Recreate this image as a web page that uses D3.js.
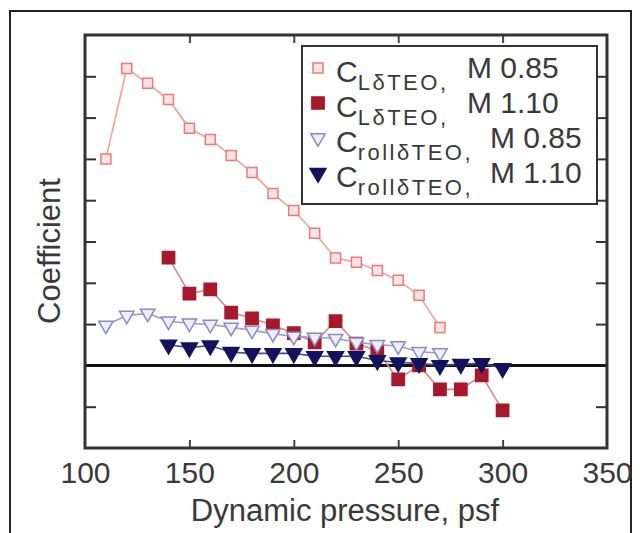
<!DOCTYPE html>
<html>
<head>
<meta charset="utf-8">
<script src="https://cdn.jsdelivr.net/npm/d3@7"></script>
<style>
  body { margin: 0; background: #fff; }
  text { font-family: "Liberation Sans", Arial, sans-serif; fill: #3a3a3a; }
</style>
</head>
<body>
<div id="chart"></div>
<script>
// dynamic pressure (psf) for each series
var qM085 = [110, 120, 130, 140, 150, 160, 170, 180, 190, 200, 210, 220, 230, 240, 250, 260, 270];
var qM110 = [140, 150, 160, 170, 180, 190, 200, 210, 220, 230, 240, 250, 260, 270, 280, 290, 300];

// coefficients
var clM085   = [5.0, 7.19, 6.83, 6.44, 5.74, 5.47, 5.08, 4.67, 4.16, 3.75, 3.2, 2.6, 2.5, 2.3, 2.06, 1.7, 0.92];
var clM110   = [2.61, 1.74, 1.84, 1.28, 1.14, 0.97, 0.78, 0.56, 1.07, 0.53, 0.35, -0.34, 0.0, -0.58, -0.58, -0.24, -1.09];
var rollM085 = [0.97, 1.21, 1.26, 1.07, 1.02, 0.99, 0.92, 0.85, 0.77, 0.70, 0.68, 0.65, 0.56, 0.50, 0.47, 0.33, 0.30];
var rollM110 = [0.50, 0.43, 0.48, 0.32, 0.29, 0.29, 0.29, 0.22, 0.22, 0.22, 0.12, 0.07, 0.05, 0.0, 0.03, 0.05, -0.07];

var xTicks = [100, 150, 200, 250, 300, 350];
var yTicks = [-2, -1, 0, 1, 2, 3, 4, 5, 6, 7, 8];

var legendSub  = ["L\u03B4TEO", "L\u03B4TEO", "roll\u03B4TEO", "roll\u03B4TEO"];
var legendMach = ["M 0.85", "M 1.10", "M 0.85", "M 1.10"];

var series = [
  {q: qM085, v: clM085,   shape: "square",   size: 100, fill: "#fde4e4", stroke: "#ee7a7a", line: "#f2a0a0"},
  {q: qM110, v: clM110,   shape: "square",   size: 150, fill: "#a8182a", stroke: "#a8182a", line: "#d88890"},
  {q: qM085, v: rollM085, shape: "triangle", size: 90,  fill: "#eeeefa", stroke: "#8a8ac4", line: "#9a9ad0"},
  {q: qM110, v: rollM110, shape: "triangle", size: 110, fill: "#12125e", stroke: "#12125e", line: "#4a4a90"}
];

var totalWidth = 640, totalHeight = 533;
var margin = {top: 35, right: 33, bottom: 85, left: 85};
var width = totalWidth - margin.left - margin.right;
var height = totalHeight - margin.top - margin.bottom;

var svg = d3.select("#chart").append("svg")
  .attr("width", totalWidth)
  .attr("height", totalHeight);

// outer frame of the figure
svg.append("rect")
  .attr("x", 10).attr("y", 11)
  .attr("width", 621).attr("height", 540)
  .attr("fill", "none")
  .attr("stroke", "#222")
  .attr("stroke-width", 2);

var canvas = svg.append("g")
  .attr("transform", "translate(" + margin.left + "," + margin.top + ")");

var xScale = d3.scaleLinear().domain([100, 350]).range([0, width]);
var yScale = d3.scaleLinear().domain([-2, 8]).range([height, 0]);

// ticks, inward on all four sides, no y labels
var innerX = xTicks.slice(1, -1);
var innerY = yTicks.slice(1, -1);

canvas.append("g")
  .attr("transform", "translate(0," + height + ")")
  .call(d3.axisBottom(xScale).tickValues(xTicks).tickSize(-8).tickPadding(14).tickFormat(d3.format("d")))
  .call(function(g) {
    g.select(".domain").remove();
    g.selectAll("line").attr("stroke", "#444").attr("stroke-width", 2)
      .filter(function(d) { return innerX.indexOf(d) < 0; }).remove();
    g.selectAll("text").attr("font-size", 30).attr("fill", "#3a3a3a")
      .attr("font-family", "Liberation Sans, Arial, sans-serif");
  });

canvas.append("g")
  .call(d3.axisTop(xScale).tickValues(innerX).tickSize(-8).tickFormat(""))
  .call(function(g) {
    g.select(".domain").remove();
    g.selectAll("line").attr("stroke", "#444").attr("stroke-width", 2);
  });

canvas.append("g")
  .call(d3.axisLeft(yScale).tickValues(innerY).tickSize(-11).tickFormat(""))
  .call(function(g) {
    g.select(".domain").remove();
    g.selectAll("line").attr("stroke", "#333").attr("stroke-width", 2);
  });

canvas.append("g")
  .attr("transform", "translate(" + width + ",0)")
  .call(d3.axisRight(yScale).tickValues(innerY).tickSize(-11).tickFormat(""))
  .call(function(g) {
    g.select(".domain").remove();
    g.selectAll("line").attr("stroke", "#333").attr("stroke-width", 2);
  });

// zero line
canvas.append("line")
  .attr("x1", 0).attr("x2", width)
  .attr("y1", yScale(0)).attr("y2", yScale(0))
  .attr("stroke", "#111")
  .attr("stroke-width", 3);

function symbolPath(s) {
  var type = s.shape == "square" ? d3.symbolSquare : d3.symbolTriangle;
  return d3.symbol().type(type).size(s.size)();
}

series.forEach(function(s) {
  var pts = s.q.map(function(q, i) { return {q: q, v: s.v[i]}; });

  var toline = d3.line()
    .x(function(d) { return xScale(d.q); })
    .y(function(d) { return yScale(d.v); });

  canvas.append("path")
    .datum(pts)
    .attr("d", toline)
    .attr("fill", "none")
    .attr("stroke", s.line)
    .attr("stroke-width", 1.6);

  canvas.append("g").selectAll("path")
    .data(pts)
    .enter()
    .append("path")
    .attr("d", symbolPath(s))
    .attr("transform", function(d) {
      var r = s.shape == "triangle" ? " rotate(180)" : "";
      return "translate(" + xScale(d.q) + "," + yScale(d.v) + ")" + r;
    })
    .attr("fill", s.fill)
    .attr("stroke", s.stroke)
    .attr("stroke-width", 1.5);
});

// plot frame
canvas.append("rect")
  .attr("width", width).attr("height", height)
  .attr("fill", "none")
  .attr("stroke", "#333")
  .attr("stroke-width", 3);

// legend
var legend = svg.append("g").attr("transform", "translate(302,46)");
legend.append("rect")
  .attr("width", 295).attr("height", 158)
  .attr("fill", "#fff")
  .attr("stroke", "#333")
  .attr("stroke-width", 2);

series.forEach(function(s, i) {
  var row = legend.append("g").attr("transform", "translate(0," + (22 + i * 35) + ")");
  row.append("path")
    .attr("d", symbolPath(s))
    .attr("transform", "translate(16,0)" + (s.shape == "triangle" ? " rotate(180)" : ""))
    .attr("fill", s.fill)
    .attr("stroke", s.stroke)
    .attr("stroke-width", 1.5);
  var t = row.append("text").attr("x", 34).attr("y", 14);
  t.append("tspan").attr("font-size", 30).text("C");
  t.append("tspan").attr("font-size", 22).attr("dy", 8)
    .attr("letter-spacing", 2.5).text(legendSub[i] + ",");
  row.append("text")
    .attr("x", i < 2 ? 165 : 188)
    .attr("y", 10)
    .attr("font-size", 30)
    .text(legendMach[i]);
});

// axis titles
svg.append("text")
  .attr("x", margin.left + width / 2 - 1)
  .attr("y", 521)
  .attr("text-anchor", "middle")
  .attr("font-size", 31)
  .text("Dynamic pressure, psf");

svg.append("text")
  .attr("transform", "translate(60,251) rotate(-90)")
  .attr("text-anchor", "middle")
  .attr("font-size", 31)
  .text("Coefficient");
</script>
</body>
</html>
